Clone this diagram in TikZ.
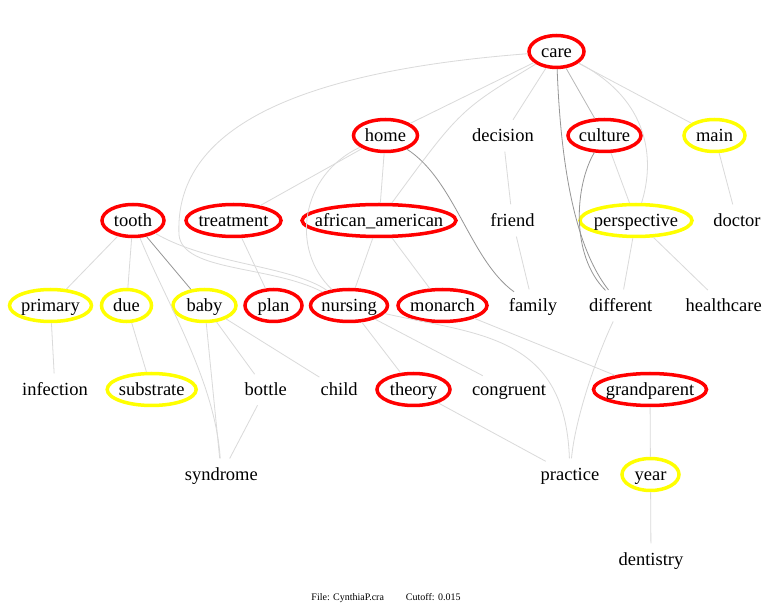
\documentclass[tikz,border=0pt]{standalone}
\usepackage{fontspec}
\setmainfont{Liberation Serif}
\usepackage{tikz}
\usetikzlibrary{shapes.geometric}
\definecolor{termred}{RGB}{255, 0, 0}
\definecolor{termyellow}{RGB}{255, 255, 0}
\definecolor{linklight}{RGB}{218, 218, 218}
\definecolor{linkmid}{RGB}{185, 185, 185}
\definecolor{linkdark}{RGB}{150, 150, 150}
\tikzstyle{term} = [ellipse, inner sep=0pt, minimum height=32pt, font=\fontsize{18.5}{20}\selectfont]
\tikzstyle{redterm} = [term, draw=termred, line width=3.5pt]
\tikzstyle{yellowterm} = [term, draw=termyellow, line width=3.5pt]
\tikzstyle{link} = [line width=0.8pt, color=linklight]
\tikzstyle{darklink} = [line width=0.8pt, color=linkdark]
\newcommand{\lbl}[1]{\makebox[0pt]{\rule[-5pt]{0pt}{22pt}#1}}

\begin{document}
\begin{tikzpicture}[x=1pt, y=-1pt]
    \useasboundingbox[fill=white] (0,0) rectangle (780,612);
    % Terms
    \node (care) [redterm, minimum width=55pt] at (556.5,51.5) {\lbl{care}};
    \node (home) [redterm, minimum width=64pt] at (385.5,135.5) {\lbl{home}};
    \node (decision) [term, minimum width=87pt] at (503,135.5) {\lbl{decision}};
    \node (culture) [redterm, minimum width=73pt] at (604.5,135.5) {\lbl{culture}};
    \node (main) [yellowterm, minimum width=61pt] at (714.5,135.5) {\lbl{main}};
    \node (tooth) [redterm, minimum width=62pt] at (133,220.5) {\lbl{tooth}};
    \node (treatment) [redterm, minimum width=95pt] at (233.5,220.5) {\lbl{treatment}};
    \node (africanamerican) [redterm, minimum width=154pt] at (379,220.5) {\lbl{african\_american}};
    \node (friend) [term, minimum width=68pt] at (512.5,220.5) {\lbl{friend}};
    \node (perspective) [yellowterm, minimum width=112pt] at (636,220.5) {\lbl{perspective}};
    \node (doctor) [term, minimum width=73pt] at (737,220.5) {\lbl{doctor}};
    \node (primary) [yellowterm, minimum width=82pt] at (50.5,305.5) {\lbl{primary}};
    \node (due) [yellowterm, minimum width=50pt] at (126.5,305.5) {\lbl{due}};
    \node (baby) [yellowterm, minimum width=63pt] at (204.5,305.5) {\lbl{baby}};
    \node (plan) [redterm, minimum width=57pt] at (273.5,305.5) {\lbl{plan}};
    \node (nursing) [redterm, minimum width=77pt] at (349,305.5) {\lbl{nursing}};
    \node (monarch) [redterm, minimum width=89pt] at (442.5,305.5) {\lbl{monarch}};
    \node (family) [term, minimum width=71pt] at (533,305.5) {\lbl{family}};
    \node (different) [term, minimum width=87pt] at (620.7,305.5) {\lbl{different}};
    \node (healthcare) [term, minimum width=100pt] at (723.7,305.5) {\lbl{healthcare}};
    \node (infection) [term, minimum width=90pt] at (55,389.5) {\lbl{infection}};
    \node (substrate) [yellowterm, minimum width=89pt] at (151.7,389.5) {\lbl{substrate}};
    \node (bottle) [term, minimum width=67pt] at (265.8,389.5) {\lbl{bottle}};
    \node (child) [term, minimum width=61pt] at (339.2,389.5) {\lbl{child}};
    \node (theory) [redterm, minimum width=73pt] at (413.5,389.5) {\lbl{theory}};
    \node (congruent) [term, minimum width=99pt] at (509,389.5) {\lbl{congruent}};
    \node (grandparent) [redterm, minimum width=113pt] at (650,389.5) {\lbl{grandparent}};
    \node (syndrome) [term, minimum width=98pt] at (221.3,474.5) {\lbl{syndrome}};
    \node (practice) [term, minimum width=84pt] at (570,474.5) {\lbl{practice}};
    \node (year) [yellowterm, minimum width=57pt] at (650.5,474.5) {\lbl{year}};
    \node (dentistry) [term, minimum width=89pt] at (651,559.5) {\lbl{dentistry}};
    \node (caption) [font=\fontsize{10}{12}\selectfont] at (386,598) {File: CynthiaP.cra\hspace{22pt}Cutoff: 0.015};

    % Links
    \draw [link] (care) -- (home);
    \draw [link] (care) -- (decision);
    \draw [link, color=linkmid] (care) -- (culture);
    \draw [link] (care) -- (main);
    \draw [link] (care) .. controls (460,110) .. (africanamerican);
    \draw [link] (care) .. controls (650,100) and (655,160) .. (perspective);
    \draw [link] (care) .. controls (250,75) and (175,150) .. (179,235) .. controls (183,272) and (270,265) .. (nursing);
    \draw [darklink] (care) .. controls (562,200) and (585,260) .. (different);
    \draw [darklink] (culture) .. controls (575,185) and (570,255) .. (different);
    \draw [link] (home) -- (treatment);
    \draw [link] (home) -- (africanamerican);
    \draw [link] (home) .. controls (300,175) and (290,250) .. (nursing);
    \draw [darklink] (home) .. controls (455,180) and (470,260) .. (family);
    \draw [link] (decision) -- (friend);
    \draw [link] (culture) -- (perspective);
    \draw [link] (main) -- (doctor);
    \draw [link] (tooth) -- (primary);
    \draw [link] (tooth) -- (due);
    \draw [darklink] (tooth) -- (baby);
    \draw [link] (tooth) .. controls (165,300) and (215,380) .. (syndrome);
    \draw [link] (tooth) .. controls (210,265) and (290,265) .. (nursing);
    \draw [link] (treatment) -- (plan);
    \draw [link] (africanamerican) -- (nursing);
    \draw [link] (africanamerican) -- (monarch);
    \draw [link] (friend) -- (family);
    \draw [link] (perspective) -- (different);
    \draw [link] (perspective) -- (healthcare);
    \draw [link] (primary) -- (infection);
    \draw [link] (due) -- (substrate);
    \draw [link] (baby) -- (syndrome);
    \draw [link] (baby) -- (bottle);
    \draw [link] (baby) -- (child);
    \draw [link] (bottle) -- (syndrome);
    \draw [link] (nursing) -- (theory);
    \draw [link] (nursing) -- (congruent);
    \draw [link] (nursing) .. controls (480,335) and (565,335) .. (practice);
    \draw [link] (monarch) -- (grandparent);
    \draw [link] (different) .. controls (595,360) and (575,420) .. (practice);
    \draw [link] (theory) -- (practice);
    \draw [link] (grandparent) -- (year);
    \draw [link] (year) -- (dentistry);
\end{tikzpicture}
\end{document}
